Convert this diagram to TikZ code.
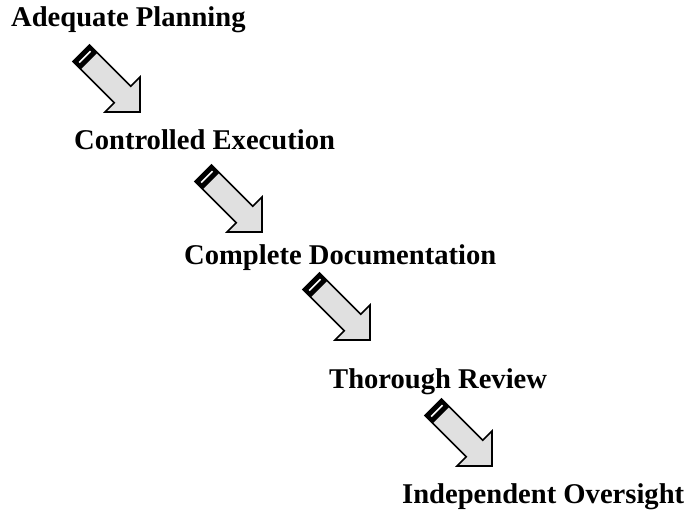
\documentclass[tikz,border=0pt]{standalone}
\usepackage{fontspec}
\setmainfont{Liberation Serif}

\tikzset{
  stage/.style={anchor=base west, inner sep=0pt, font=\fontsize{28.7}{32}\selectfont\bfseries},
  arrowbody/.style={draw, line width=1.6bp, line join=miter, fill=black!12}
}

\newcommand{\stepArrow}[1]{%
  \begin{scope}[shift={(#1)}, rotate=-45]
    \path [arrowbody] (0,0)--(-24.7,24.7)--(-24.7,11.7)--(-83,11.7)--(-83,-11.7)--(-24.7,-11.7)--(-24.7,-24.7)--cycle;
    \fill (-83,11.7) rectangle (-72,-11.7);
    \draw [white, line width=1.5bp] (-78,8)--(-78,-8);
  \end{scope}}

\begin{document}
\begin{tikzpicture}[x=1bp, y=-1bp]
\useasboundingbox (0,0) rectangle (690,512);

% arrow tips
\coordinate (T1) at (140,112);
\coordinate (T2) at (262,232);
\coordinate (T3) at (370,340);
\coordinate (T4) at (492,466);

\stepArrow{T1}
\stepArrow{T2}
\stepArrow{T3}
\stepArrow{T4}

\node [stage] (plan) at (11,27) {Adequate Planning};
\node [stage] (exec) at (74,150) {Controlled Execution};
\node [stage] (docs) at (184,265) {Complete Documentation};
\node [stage] (review) at (329,388) {Thorough Review};
\node [stage] (oversight) at (402,503) {Independent Oversight};
\end{tikzpicture}
\end{document}
